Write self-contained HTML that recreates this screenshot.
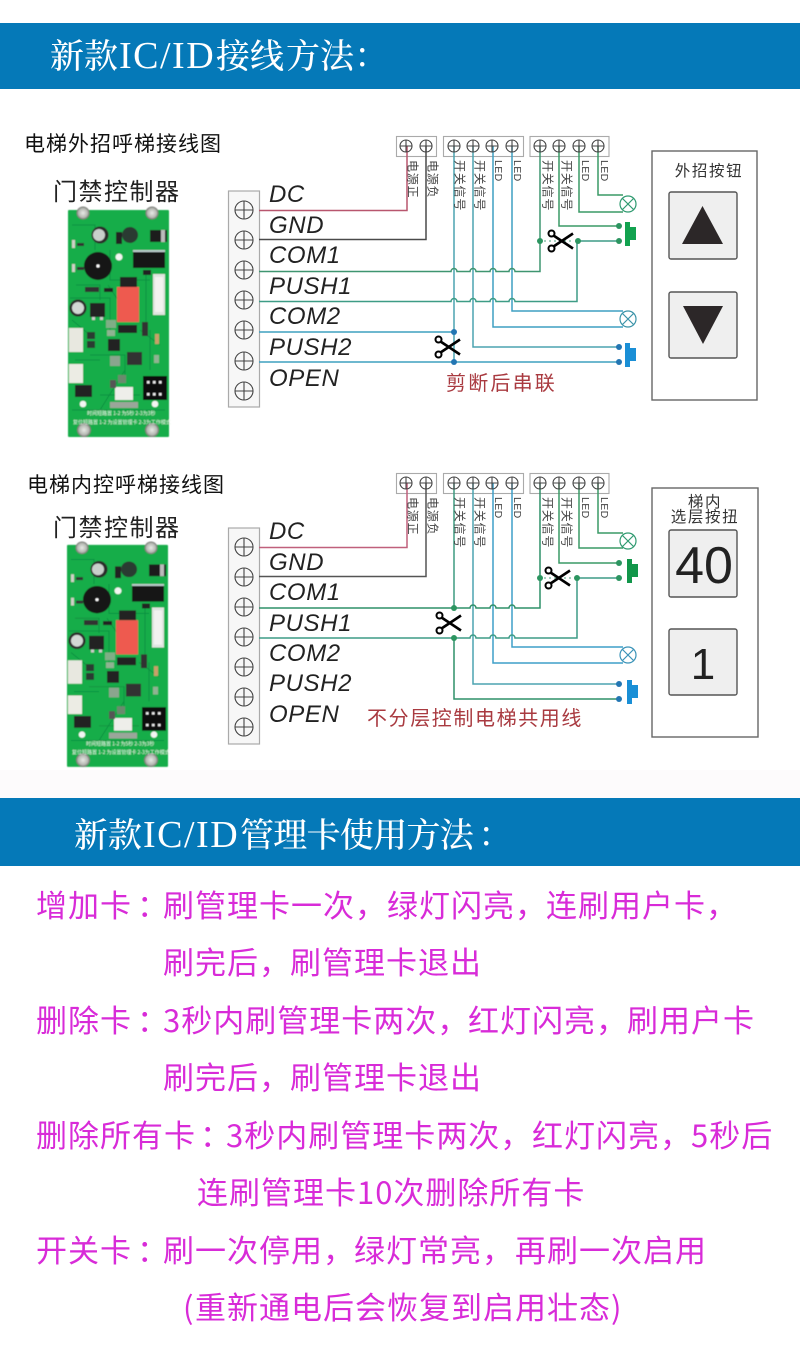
<!DOCTYPE html>
<html lang="zh">
<head>
<meta charset="utf-8">
<title>新款IC/ID接线方法</title>
<style>
html,body{margin:0;padding:0;background:#fff;width:800px;height:1347px;overflow:hidden}
svg{display:block}
.hd{font-family:"Noto Serif CJK SC",serif;font-size:34px;font-weight:500;fill:#fff}
.hl{font-family:"Liberation Serif",serif;font-size:38px;letter-spacing:1.5px;fill:#fff}
.sub{font-family:"Noto Sans CJK SC",sans-serif;font-size:21px;fill:#111;letter-spacing:1px}
.ctl{font-family:"Noto Sans CJK SC",sans-serif;font-size:24px;fill:#222;letter-spacing:1.5px}
.lab{font-family:"Liberation Sans",sans-serif;font-size:24px;font-style:italic;fill:#222;letter-spacing:.6px}
.v{font-family:"Noto Sans CJK SC",sans-serif;font-size:12px;fill:#444;letter-spacing:.8px;dominant-baseline:central}
.ve{font-family:"Liberation Sans",sans-serif;font-size:10.5px;fill:#444;letter-spacing:.4px;dominant-baseline:central}
.note{font-family:"Noto Sans CJK SC",sans-serif;font-size:20px;fill:#a93a40}
.pt{font-family:"Noto Sans CJK SC",sans-serif;font-size:15.5px;fill:#333;letter-spacing:1.6px;text-anchor:middle}
.num{font-family:"Liberation Sans",sans-serif;fill:#222;text-anchor:middle}
.p{font-family:"Noto Sans CJK SC",sans-serif;font-size:31px;font-weight:400;fill:#d82bd8;letter-spacing:1px}
.w{fill:none;stroke-width:1.5}
.tiny{font-family:"Noto Sans CJK SC",sans-serif;font-size:5px;fill:#e8f5e8}
</style>
</head>
<body>
<svg xmlns="http://www.w3.org/2000/svg" width="800" height="1347" viewBox="0 0 800 1347">
<defs>
  <g id="tL"><circle r="9" fill="none" stroke="#444" stroke-width="1.1"/><path d="M-9 0H9M0-9V9" stroke="#444" stroke-width="1.1"/></g>
  <g id="tS"><circle r="6" fill="none" stroke="#444" stroke-width="1.1"/><path d="M-6 0H6M0-6V6" stroke="#444" stroke-width="1.1"/></g>
  <g id="scis"><circle cx="-9.5" cy="-7.5" r="3" fill="#fff" stroke="#000" stroke-width="2"/><circle cx="-9.5" cy="7.5" r="3" fill="#fff" stroke="#000" stroke-width="2"/><path d="M-7.5-5.5L12 7.5M-7.5 5.5L12-7.5" stroke="#000" stroke-width="2.6" fill="none"/></g>
  <g id="btn"><path d="M0 0H5V5H11V18H5V24H0Z"/></g>
  <filter id="soft" x="-5%" y="-5%" width="110%" height="110%"><feGaussianBlur stdDeviation="0.45"/></filter>
  <radialGradient id="scr"><stop offset="0" stop-color="#e8eae6"/><stop offset="0.7" stop-color="#b5b8b2"/><stop offset="1" stop-color="#6c6f6a"/></radialGradient>
  <g id="pcb" filter="url(#soft)">
    <rect x="68" y="210" width="101" height="227" fill="#19ad4a" rx="1"/>
    <g fill="none" stroke="#0f9140" stroke-width="1">
      <path d="M72 225H95V250M110 250V280H150M70 298H110V330M90 355H125V375M100 395H140M150 330V370M72 320L90 335M140 330L160 345M125 370L100 410M72 410H165"/>
      <path d="M76 285H100V300M108 285L118 300M146 270L146 330M75 360H100"/>
    </g>
    <circle cx="83" cy="213" r="6.5" fill="url(#scr)"/><circle cx="152" cy="213" r="6.5" fill="url(#scr)"/>
    <circle cx="84" cy="430" r="7" fill="url(#scr)"/><circle cx="152" cy="430" r="7" fill="url(#scr)"/>
    <circle cx="100" cy="235" r="8.5" fill="#2b2b2b"/><circle cx="99" cy="235" r="6" fill="#c8d0cb"/>
    <circle cx="130" cy="235" r="8" fill="#2a3a30"/><rect x="116" y="232" width="6" height="12" fill="#222"/>
    <rect x="150" y="230" width="17" height="12" fill="#1e1e1e"/><rect x="161" y="230" width="4" height="12" fill="#bbb"/>
    <rect x="133" y="250" width="32" height="18" fill="#161616"/><rect x="133" y="250" width="32" height="2" fill="#bcc"/>
    <rect x="143" y="270" width="8" height="5" fill="#222"/>
    <circle cx="98" cy="266" r="14" fill="#141414"/><circle cx="98" cy="266" r="1.6" fill="#fff"/>
    <circle cx="119" cy="257" r="3.5" fill="#f3f6f3"/><circle cx="83" cy="404" r="3.3" fill="#f3f6f3"/><circle cx="155" cy="404" r="3.3" fill="#f3f6f3"/>
    <rect x="72" y="240" width="3" height="8" fill="#d0d0c8"/><rect x="77" y="243" width="7" height="3" fill="#333"/><rect x="72" y="264" width="3" height="8" fill="#d0d0c8"/><rect x="77" y="267" width="7" height="3" fill="#333"/>
    <rect x="153" y="274" width="12" height="41" fill="#e0e4e0"/><rect x="155" y="277" width="8" height="35" fill="#f2f2f0"/>
    <rect x="120" y="277" width="17" height="10" fill="#222"/>
    <rect x="117" y="287" width="22" height="35" fill="#ee5a50"/>
    <rect x="118" y="325" width="19" height="8" fill="#222"/><rect x="85" y="287" width="14" height="5" fill="#333"/><rect x="104" y="288" width="9" height="4" fill="#222"/>
    <circle cx="78" cy="308" r="8.5" fill="#2b2b2b"/><circle cx="78" cy="308" r="6" fill="#d2d8d4"/>
    <rect x="90" y="303" width="15" height="14" fill="#222"/><rect x="92" y="317" width="3" height="3" fill="#ccc"/><rect x="100" y="317" width="3" height="3" fill="#ccc"/>
    <rect x="69" y="328" width="14" height="24" fill="#e8e8e0"/><rect x="69" y="364" width="14" height="19" fill="#ecece4"/>
    <rect x="87" y="332" width="8" height="7" fill="#2a3a30"/><rect x="87" y="341" width="8" height="7" fill="#2a3a30"/>
    <rect x="108" y="339" width="12" height="12" fill="#222"/>
    <rect x="127" y="352" width="15" height="13" fill="#333"/>
    <rect x="143" y="376" width="24" height="24" fill="#111"/><rect x="147" y="381" width="2.5" height="2.5" fill="#eee"/><rect x="153" y="381" width="2.5" height="2.5" fill="#eee"/><rect x="159" y="381" width="2.5" height="2.5" fill="#eee"/><rect x="147" y="393" width="2.5" height="2.5" fill="#eee"/><rect x="153" y="393" width="2.5" height="2.5" fill="#eee"/><rect x="159" y="393" width="2.5" height="2.5" fill="#eee"/>
    <rect x="75" y="385" width="17" height="12" fill="#222"/>
    <rect x="115" y="387" width="18" height="13" fill="#eeeeea"/>
    <rect x="110" y="402" width="28" height="6" fill="#9aa69a"/>
    <rect x="110" y="356" width="10" height="10" fill="#8aa58e"/><rect x="106" y="320" width="10" height="8" fill="#7fae86"/><rect x="107" y="330" width="8" height="6" fill="#8fb392"/>
    <rect x="142" y="322" width="6" height="14" fill="#333"/><rect x="155" y="334" width="4" height="10" fill="#c9a06a"/><rect x="154" y="355" width="5" height="8" fill="#8fb392"/>
    <rect x="110" y="380" width="6" height="8" fill="#555"/><rect x="118" y="375" width="8" height="8" fill="#6a8a6e"/>
    <text class="tiny" x="87" y="415">时间短路置 1-2 为5秒 2-3为3秒</text>
    <text class="tiny" x="73" y="424">复位短路置 1-2 为设置管理卡 2-3为工作模式</text>
  </g>
</defs>

<!-- background tint -->
<rect x="0" y="770" width="800" height="28" fill="#fdfbfc"/>

<!-- Header 1 -->
<rect x="0" y="23" width="800" height="66" fill="#0579b8"/>
<text class="hd" y="68"><tspan x="50">新款</tspan></text>
<text class="hl" x="119" y="68">IC/ID</text>
<text class="hd" y="68"><tspan x="216">接线</tspan><tspan x="286">方法</tspan></text>
<text class="hl" x="357" y="66">:</text>

<!-- Diagram 1 -->
<text class="sub" x="24" y="151">电梯外招呼梯接线图</text>
<text class="ctl" x="53" y="200">门禁控制器</text>
<use href="#pcb"/>

<rect x="228.5" y="191" width="31" height="216" fill="#f7f7f7" stroke="#aaa" stroke-width="1.2"/>
<use href="#tL" x="244" y="210"/><use href="#tL" x="244" y="240"/><use href="#tL" x="244" y="270"/><use href="#tL" x="244" y="300"/><use href="#tL" x="244" y="330"/><use href="#tL" x="244" y="361"/><use href="#tL" x="244" y="391"/>
<text class="lab" x="269" y="202">DC</text>
<text class="lab" x="269" y="233">GND</text>
<text class="lab" x="269" y="263">COM1</text>
<text class="lab" x="269" y="294">PUSH1</text>
<text class="lab" x="269" y="324">COM2</text>
<text class="lab" x="269" y="355">PUSH2</text>
<text class="lab" x="269" y="386">OPEN</text>

<rect x="396.5" y="136.5" width="40" height="20" fill="#fff" stroke="#aaa" stroke-width="1.1"/>
<rect x="443.5" y="136.5" width="80" height="20" fill="#fff" stroke="#aaa" stroke-width="1.1"/>
<rect x="530" y="136.5" width="79" height="20" fill="#fff" stroke="#aaa" stroke-width="1.1"/>

<!-- wires 1 -->
<path class="w" stroke="#b8566e" d="M259 210.5H407V146"/>
<path class="w" stroke="#4a4a4a" d="M259 239.5H426V146"/>
<path class="w" stroke="#4ba3b0" d="M454 146V362M473 146V347H619"/>
<path class="w" stroke="#3f9fc2" d="M493 146V327H623M512 146V311H623"/>
<path class="w" stroke="#3fa0bf" d="M259 332H454M259 362H619"/>
<path class="w" stroke="#3f9570" d="M259 271.5H451a3 3 0 0 1 6 0H470a3 3 0 0 1 6 0H490a3 3 0 0 1 6 0H509a3 3 0 0 1 6 0H540V146"/>
<path class="w" stroke="#3d9c86" d="M259 301.5H451a3 3 0 0 1 6 0H470a3 3 0 0 1 6 0H490a3 3 0 0 1 6 0H509a3 3 0 0 1 6 0H577V241H619"/>
<path class="w" stroke="#3a9a66" d="M559 146V226H619M579 146V212H623M598 146V195H623"/>
<path d="M544 241H574" stroke="#6fb596" stroke-width="1.2" stroke-dasharray="2 3" fill="none"/>

<use href="#tS" x="406" y="146"/><use href="#tS" x="426" y="146"/>
<use href="#tS" x="454" y="146"/><use href="#tS" x="473" y="146"/><use href="#tS" x="492" y="146"/><use href="#tS" x="512" y="146"/>
<use href="#tS" x="540" y="146"/><use href="#tS" x="559" y="146"/><use href="#tS" x="579" y="146"/><use href="#tS" x="598" y="146"/>

<g fill="#2c9560"><circle cx="540" cy="241" r="3"/><circle cx="578" cy="241" r="3"/><circle cx="619" cy="226" r="3"/><circle cx="619" cy="241" r="3"/></g>
<g fill="#2376b3"><circle cx="454" cy="332" r="3"/><circle cx="454" cy="362" r="3"/><circle cx="619" cy="347" r="3"/><circle cx="619" cy="362" r="3"/></g>
<use href="#scis" x="561" y="241"/>
<use href="#scis" x="448" y="347"/>
<use href="#btn" x="625" y="222" fill="#12a24f"/>
<use href="#btn" x="625" y="343" fill="#1a8fd6"/>
<g fill="#fff" stroke="#2f9a70" stroke-width="1.2"><circle cx="628" cy="204" r="8"/><path d="M622.5 198.5L633.5 209.5M633.5 198.5L622.5 209.5"/></g>
<g fill="#fff" stroke="#3a93a8" stroke-width="1.2"><circle cx="628" cy="319" r="8"/><path d="M622.5 313.5L633.5 324.5M633.5 313.5L622.5 324.5"/></g>

<text class="v" transform="translate(413,160) rotate(90)">电源正</text>
<text class="v" transform="translate(433,160) rotate(90)">电源负</text>
<text class="v" transform="translate(460,160) rotate(90)">开关信号</text>
<text class="v" transform="translate(480,160) rotate(90)">开关信号</text>
<text class="ve" transform="translate(498,160) rotate(90)">LED</text>
<text class="ve" transform="translate(517,160) rotate(90)">LED</text>
<text class="v" transform="translate(548,160) rotate(90)">开关信号</text>
<text class="v" transform="translate(567,160) rotate(90)">开关信号</text>
<text class="ve" transform="translate(585,160) rotate(90)">LED</text>
<text class="ve" transform="translate(604,160) rotate(90)">LED</text>

<text class="note" x="446" y="390" letter-spacing="2.2">剪断后串联</text>

<rect x="652" y="151" width="105" height="249" fill="#fff" stroke="#666" stroke-width="1.4"/>
<text class="pt" x="709" y="176">外招按钮</text>
<rect x="669" y="192" width="68" height="67" rx="2" fill="#efefef" stroke="#555" stroke-width="1.4"/>
<path d="M702.5 206L723 244H682Z" fill="#2c2728"/>
<rect x="669" y="292" width="68" height="66" rx="2" fill="#efefef" stroke="#555" stroke-width="1.4"/>
<path d="M703 344L683 306H723Z" fill="#2c2728"/>

<!-- Diagram 2 -->
<text class="sub" x="27" y="492">电梯内控呼梯接线图</text>
<text class="ctl" x="53" y="536">门禁控制器</text>
<use href="#pcb" transform="translate(-1,339.5) scale(1,0.978)"/>

<rect x="228.5" y="528" width="31" height="216" fill="#f7f7f7" stroke="#aaa" stroke-width="1.2"/>
<use href="#tL" x="244" y="547"/><use href="#tL" x="244" y="577"/><use href="#tL" x="244" y="607"/><use href="#tL" x="244" y="637"/><use href="#tL" x="244" y="667"/><use href="#tL" x="244" y="697"/><use href="#tL" x="244" y="727"/>
<text class="lab" x="269" y="539">DC</text>
<text class="lab" x="269" y="570">GND</text>
<text class="lab" x="269" y="600">COM1</text>
<text class="lab" x="269" y="631">PUSH1</text>
<text class="lab" x="269" y="661">COM2</text>
<text class="lab" x="269" y="691">PUSH2</text>
<text class="lab" x="269" y="722">OPEN</text>

<rect x="396.5" y="473.5" width="40" height="20" fill="#fff" stroke="#aaa" stroke-width="1.1"/>
<rect x="443.5" y="473.5" width="80" height="20" fill="#fff" stroke="#aaa" stroke-width="1.1"/>
<rect x="530" y="473.5" width="79" height="20" fill="#fff" stroke="#aaa" stroke-width="1.1"/>

<!-- wires 2 -->
<path class="w" stroke="#c0607c" d="M259 547.5H407V483"/>
<path class="w" stroke="#555" d="M259 576.5H426V483"/>
<path class="w" stroke="#3d9a80" d="M454 483V608"/>
<path class="w" stroke="#4ba3b0" d="M473 483V684H619"/>
<path class="w" stroke="#3f9fc8" d="M493 483V663H623M512 483V647H623"/>
<path class="w" stroke="#2f9068" d="M454 638V699H619"/>
<path class="w" stroke="#2f9068" d="M259 608H470a3 3 0 0 1 6 0H490a3 3 0 0 1 6 0H509a3 3 0 0 1 6 0H540V483"/>
<path class="w" stroke="#3d9c86" d="M259 638H470a3 3 0 0 1 6 0H490a3 3 0 0 1 6 0H509a3 3 0 0 1 6 0H577V578H619"/>
<path class="w" stroke="#3a9a66" d="M559 483V563H619M579 483V548H623M598 483V533H623"/>
<path d="M544 578H574" stroke="#6fb596" stroke-width="1.2" stroke-dasharray="2 3" fill="none"/>

<use href="#tS" x="406" y="483"/><use href="#tS" x="426" y="483"/>
<use href="#tS" x="454" y="483"/><use href="#tS" x="473" y="483"/><use href="#tS" x="492" y="483"/><use href="#tS" x="512" y="483"/>
<use href="#tS" x="540" y="483"/><use href="#tS" x="559" y="483"/><use href="#tS" x="579" y="483"/><use href="#tS" x="598" y="483"/>

<g fill="#2c9560"><circle cx="454" cy="608" r="3"/><circle cx="454" cy="638" r="3"/><circle cx="540" cy="578" r="3"/><circle cx="577" cy="578" r="3"/><circle cx="619" cy="563" r="3"/><circle cx="619" cy="578" r="3"/></g>
<g fill="#2376b3"><circle cx="619" cy="684" r="3"/><circle cx="619" cy="699" r="3"/></g>
<use href="#scis" x="558" y="578"/>
<use href="#scis" x="449" y="623"/>
<use href="#btn" x="627" y="559" fill="#12964a"/>
<use href="#btn" x="627" y="680" fill="#1a8fd6"/>
<g fill="#fff" stroke="#2f9a70" stroke-width="1.2"><circle cx="628" cy="541" r="8"/><path d="M622.5 535.5L633.5 546.5M633.5 535.5L622.5 546.5"/></g>
<g fill="#fff" stroke="#3a93b8" stroke-width="1.2"><circle cx="628" cy="655" r="8"/><path d="M622.5 649.5L633.5 660.5M633.5 649.5L622.5 660.5"/></g>

<text class="v" transform="translate(413,497) rotate(90)">电源正</text>
<text class="v" transform="translate(433,497) rotate(90)">电源负</text>
<text class="v" transform="translate(460,497) rotate(90)">开关信号</text>
<text class="v" transform="translate(480,497) rotate(90)">开关信号</text>
<text class="ve" transform="translate(498,497) rotate(90)">LED</text>
<text class="ve" transform="translate(517,497) rotate(90)">LED</text>
<text class="v" transform="translate(548,497) rotate(90)">开关信号</text>
<text class="v" transform="translate(567,497) rotate(90)">开关信号</text>
<text class="ve" transform="translate(585,497) rotate(90)">LED</text>
<text class="ve" transform="translate(604,497) rotate(90)">LED</text>

<text class="note" x="367" y="725" letter-spacing="1.6">不分层控制电梯共用线</text>

<rect x="652" y="488" width="106" height="249" fill="#fff" stroke="#666" stroke-width="1.4"/>
<text class="pt" x="705" y="507">梯内</text>
<text class="pt" x="705" y="522">选层按扭</text>
<rect x="669" y="530" width="68" height="67" rx="2" fill="#efefef" stroke="#555" stroke-width="1.4"/>
<text class="num" x="704" y="583" font-size="52">40</text>
<rect x="669" y="629" width="68" height="66" rx="2" fill="#efefef" stroke="#555" stroke-width="1.4"/>
<text class="num" x="703" y="679" font-size="44">1</text>

<!-- Header 2 -->
<rect x="0" y="798" width="800" height="68" fill="#0579b8"/>
<text class="hd" y="847"><tspan x="74">新款</tspan></text>
<text class="hl" x="143" y="847">IC/ID</text>
<text class="hd" y="847"><tspan x="240" letter-spacing="-0.7">管理卡使用方法</tspan></text>
<text class="hl" x="481" y="845">:</text>

<!-- Pink text -->
<text class="p" y="917"><tspan x="36">增加卡</tspan><tspan x="137">：</tspan><tspan x="163">刷管理卡一次，</tspan><tspan x="387">绿灯闪亮，</tspan><tspan x="546">连刷用户卡，</tspan></text>
<text class="p" y="974"><tspan x="163">刷完后，</tspan><tspan x="290">刷管理卡退出</tspan></text>
<text class="p" y="1032"><tspan x="36">删除卡</tspan><tspan x="137">：</tspan><tspan x="163">3秒内刷管理卡两次，</tspan><tspan x="468">红灯闪亮，</tspan><tspan x="627">刷用户卡</tspan></text>
<text class="p" y="1089"><tspan x="163">刷完后，</tspan><tspan x="290">刷管理卡退出</tspan></text>
<text class="p" y="1147"><tspan x="36">删除所有卡</tspan><tspan x="200">：</tspan><tspan x="226">3秒内刷管理卡两次，</tspan><tspan x="532">红灯闪亮，</tspan><tspan x="691">5秒后</tspan></text>
<text class="p" y="1204"><tspan x="197">连刷管理卡10次删除所有卡</tspan></text>
<text class="p" y="1262"><tspan x="36">开关卡</tspan><tspan x="137">：</tspan><tspan x="163">刷一次停用，</tspan><tspan x="354">绿灯常亮，</tspan><tspan x="515">再刷一次启用</tspan></text>
<text class="p" y="1319"><tspan x="183">(</tspan><tspan x="195">重新通电后会恢复到启用壮态</tspan><tspan x="611">)</tspan></text>
</svg>
</body>
</html>
